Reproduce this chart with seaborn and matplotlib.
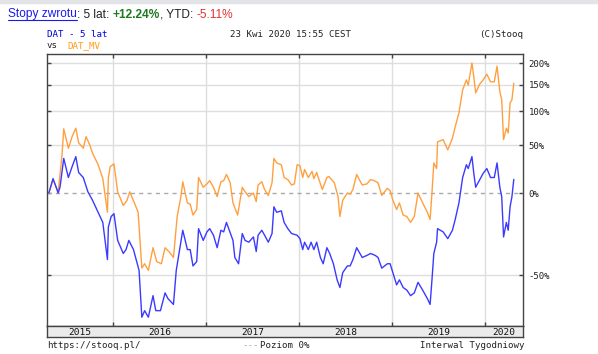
import numpy as np
import pandas as pd
import seaborn as sns
import matplotlib.pyplot as plt
from matplotlib.lines import Line2D
from matplotlib.patches import Rectangle
from matplotlib.ticker import FixedLocator, NullLocator, FixedFormatter

# DAT (blue) - cumulative return in %, x in fractional years
dat_t = [2015.31, 2015.355, 2015.41, 2015.43, 2015.47, 2015.52, 2015.56, 2015.60, 2015.63, 2015.68,
         2015.73, 2015.78, 2015.84, 2015.89, 2015.94, 2015.95, 2015.98, 2016.01, 2016.05, 2016.11,
         2016.14, 2016.17, 2016.22, 2016.28, 2016.31, 2016.34, 2016.38, 2016.43, 2016.46, 2016.51,
         2016.56, 2016.59, 2016.65, 2016.68, 2016.71, 2016.75, 2016.80, 2016.83, 2016.86, 2016.90,
         2016.92, 2016.97, 2017.01, 2017.04, 2017.08, 2017.12, 2017.16, 2017.19, 2017.22, 2017.25,
         2017.29, 2017.31, 2017.35, 2017.39, 2017.42, 2017.46, 2017.51, 2017.54, 2017.56, 2017.60,
         2017.63, 2017.67, 2017.71, 2017.73, 2017.76, 2017.81, 2017.84, 2017.88, 2017.92, 2017.98,
         2018.01, 2018.04, 2018.06, 2018.10, 2018.13, 2018.16, 2018.19, 2018.23, 2018.26, 2018.30,
         2018.33, 2018.37, 2018.41, 2018.44, 2018.47, 2018.52, 2018.55, 2018.58, 2018.62, 2018.68,
         2018.73, 2018.77, 2018.82, 2018.85, 2018.89, 2018.95, 2018.98, 2019.01, 2019.05, 2019.08,
         2019.12, 2019.16, 2019.20, 2019.24, 2019.28, 2019.33, 2019.38, 2019.41, 2019.43, 2019.45,
         2019.48, 2019.49, 2019.55, 2019.60, 2019.65, 2019.68, 2019.72, 2019.76, 2019.80, 2019.82,
         2019.86, 2019.88, 2019.90, 2019.95, 2019.98, 2020.02, 2020.06, 2020.10, 2020.13, 2020.16,
         2020.18, 2020.20, 2020.23, 2020.25, 2020.27, 2020.29, 2020.31]
dat_pct = [0, 13, 0, 5, 34, 14, 25, 36, 19, 14,
           1, -6, -15, -22, -43, -25, -18, -16, -33, -40,
           -38, -33, -38, -48, -65, -63, -65, -58, -63, -63,
           -57, -59, -61, -48, -40, -27, -38, -38, -46, -44,
           -26, -33, -28, -26, -30, -37, -27, -28, -22, -27,
           -33, -42, -45, -29, -33, -34, -31, -39, -30, -27,
           -30, -34, -29, -11, -15, -14, -22, -26, -29, -30,
           -32, -38, -34, -38, -34, -38, -34, -42, -45, -37,
           -40, -45, -52, -55, -49, -46, -46, -43, -37, -42,
           -41, -40, -41, -42, -47, -45, -45, -49, -54, -52,
           -55, -56, -58, -57, -53, -56, -59, -61, -52, -40,
           -34, -26, -28, -32, -27, -20, -8, 14, 27, 23,
           36, 18, 5, 13, 18, 23, 14, 14, 29, 5,
           -3, -31, -22, -27, -11, -3, 12.24]

# DAT_MV (orange)
mv_t = [2015.31, 2015.355, 2015.41, 2015.45, 2015.47, 2015.52, 2015.56, 2015.60, 2015.63, 2015.68,
        2015.71, 2015.75, 2015.78, 2015.84, 2015.89, 2015.94, 2015.95, 2015.97, 2016.01, 2016.05,
        2016.11, 2016.15, 2016.18, 2016.23, 2016.27, 2016.31, 2016.34, 2016.38, 2016.43, 2016.47,
        2016.52, 2016.56, 2016.60, 2016.65, 2016.69, 2016.73, 2016.75, 2016.80, 2016.83, 2016.86,
        2016.90, 2016.92, 2016.97, 2017.01, 2017.04, 2017.08, 2017.12, 2017.16, 2017.19, 2017.22,
        2017.26, 2017.29, 2017.34, 2017.39, 2017.42, 2017.46, 2017.51, 2017.54, 2017.56, 2017.60,
        2017.63, 2017.67, 2017.71, 2017.73, 2017.76, 2017.81, 2017.84, 2017.88, 2017.92, 2017.95,
        2017.98, 2018.01, 2018.04, 2018.06, 2018.10, 2018.14, 2018.16, 2018.19, 2018.25, 2018.30,
        2018.32, 2018.38, 2018.42, 2018.44, 2018.47, 2018.52, 2018.55, 2018.58, 2018.62, 2018.68,
        2018.73, 2018.77, 2018.81, 2018.85, 2018.89, 2018.95, 2018.98, 2019.01, 2019.05, 2019.08,
        2019.12, 2019.16, 2019.20, 2019.24, 2019.28, 2019.33, 2019.38, 2019.41, 2019.43, 2019.45,
        2019.48, 2019.49, 2019.55, 2019.60, 2019.65, 2019.68, 2019.72, 2019.76, 2019.80, 2019.82,
        2019.86, 2019.88, 2019.90, 2019.94, 2019.98, 2020.02, 2020.06, 2020.10, 2020.13, 2020.16,
        2020.18, 2020.20, 2020.23, 2020.25, 2020.27, 2020.29, 2020.31]
mv_pct = [0, 12, 1, 36, 72, 46, 61, 73, 53, 46,
          61, 50, 40, 27, 13, -15, 14, 25, 28, 1,
          -10, -6, 1, -8, -15, -47, -45, -48, -37, -44,
          -45, -37, -39, -42, -18, -3, 10, -8, -9, -17,
          -13, 14, 5, 8, 11, 5, -3, 10, 11, 17,
          9, -8, -17, 5, 1, -3, 0, -7, 7, 10,
          3, -2, 9, 34, 29, 27, 14, 12, 7, 8,
          27, 26, 14, 22, 14, 20, 13, 19, 3, 14,
          15, 9, -3, -18, -6, 0, -1, 3, 17, 7,
          8, 12, 11, 9, -2, 4, 2, -6, -13, -8,
          -17, -18, -22, -18, 0, -8, -15, -20, 0, 29,
          23, 54, 57, 44, 59, 75, 97, 139, 160, 149,
          200, 167, 133, 150, 160, 173, 156, 156, 192, 135,
          120, 57, 73, 66, 114, 120, 153]

year_starts = [2016, 2017, 2018, 2019, 2020]
year_labels = ["2015", "2016", "2017", "2018", "2019", "2020"]
year_label_pos = [2015.645, 2016.5, 2017.5, 2018.5, 2019.5, 2020.2]
level_pct = [-50, 0, 50, 100, 150, 200]
level_labels = ["-50%", "0%", "50%", "100%", "150%", "200%"]

W, H = 598, 354
def fx(px):
    return px / W
def fy(py):
    return 1 - py / H

sns.set_theme(style="white")
plt.rcParams["font.family"] = ["DejaVu Sans Mono"]

df = pd.concat([
    pd.DataFrame({"t": dat_t, "ratio": 1 + np.array(dat_pct) / 100.0, "name": "DAT"}),
    pd.DataFrame({"t": mv_t, "ratio": 1 + np.array(mv_pct) / 100.0, "name": "DAT_MV"}),
])

fig = plt.figure(figsize=(W / 100, H / 100), dpi=100)
fig.patches.append(Rectangle((0, fy(3)), 1, 3 / H, transform=fig.transFigure,
                             color="#e2e4e8", zorder=0))

ax = fig.add_axes([fx(47), fy(326), fx(523) - fx(47), fy(54) - fy(326)])
ax.set_yscale("log")

# grid
for x in year_starts:
    ax.axvline(x, color="#dedede", lw=1, zorder=0)
for p in level_pct:
    if p != 0:
        ax.axhline(1 + p / 100, color="#dedede", lw=1, zorder=0)
ax.axhline(1.0, color="#aaaaaa", lw=1, ls=(0, (3, 3)), zorder=1)

sns.lineplot(data=df, x="t", y="ratio", hue="name", hue_order=["DAT_MV", "DAT"],
             palette={"DAT": "#3a3aff", "DAT_MV": "#ffa040"}, estimator=None,
             sort=False, legend=False, lw=1.0, ax=ax)

ax.set_xlim(2015.29, 2020.409)
ax.set_ylim(0.325, 3.238)
ax.set_xlabel("")
ax.set_ylabel("")
ax.xaxis.set_major_locator(FixedLocator(year_starts))
ax.xaxis.set_minor_locator(NullLocator())
ax.yaxis.set_major_locator(FixedLocator([1 + p / 100 for p in level_pct]))
ax.yaxis.set_major_formatter(FixedFormatter(level_labels))
ax.yaxis.set_minor_locator(NullLocator())
ax.tick_params(axis="x", direction="in", length=3, width=1, color="#444444",
               top=True, bottom=True, labelbottom=False)
ax.tick_params(axis="y", direction="in", length=3, width=1, color="#444444",
               left=True, right=True, labelleft=False, labelright=True,
               labelsize=6.5, pad=4, labelcolor="#222222")
for s in ax.spines.values():
    s.set_color("#444444")
    s.set_linewidth(1.0)

# year band
band = fig.add_axes([fx(47), fy(337), fx(523) - fx(47), fy(326) - fy(337)])
band.set_facecolor("#ebebeb")
band.set_xlim(ax.get_xlim())
band.set_ylim(0, 1)
band.set_xticks([])
band.set_yticks([])
for s in band.spines.values():
    s.set_color("#444444")
    s.set_linewidth(1.0)
for pos, lab in zip(year_label_pos, year_labels):
    band.text(pos, 0.45, lab, ha="center", va="center", fontsize=6.8, color="#111111")

# header texts
fig.text(fx(47), fy(37), "DAT - 5 lat", fontsize=6.6, color="#0000dd", va="baseline")
fig.text(fx(47), fy(48), "vs", fontsize=6.6, color="#222222", va="baseline")
fig.text(fx(67), fy(48), "DAT_MV", fontsize=6.6, color="#ff9a1a", va="baseline")
fig.text(fx(290), fy(37), "23 Kwi 2020 15:55 CEST", fontsize=6.6, color="#222222",
         va="baseline", ha="center")
fig.text(fx(523), fy(37), "(C)Stooq", fontsize=6.6, color="#222222", va="baseline", ha="right")

# footer texts
fig.text(fx(47), fy(348), "https://stooq.pl/", fontsize=6.6, color="#222222", va="baseline")
fig.text(fx(242), fy(348), "---", fontsize=6.6, color="#aaaaaa", va="baseline")
fig.text(fx(260), fy(348), "Poziom 0%", fontsize=6.6, color="#222222", va="baseline")
fig.text(fx(524), fy(348), "Interwal Tygodniowy", fontsize=6.6, color="#222222",
         va="baseline", ha="right")

# title line
tfont = ["Liberation Sans", "DejaVu Sans"]
t1 = fig.text(fx(8), fy(17.5), "Stopy zwrotu", fontsize=8.6, color="#1a1aee",
              va="baseline", family=tfont)
pieces = [(": 5 lat: ", "#222222", "normal"), ("+12.24%", "#1e7a1e", "bold"),
          (", YTD: ", "#222222", "normal"), ("-5.11%", "#e23030", "normal")]
prev = t1
for txt, col, wt in pieces:
    prev = ax.annotate(txt, xy=(1, 0), xycoords=prev, va="bottom", ha="left",
                       fontsize=8.6, color=col, fontweight=wt, family=tfont,
                       annotation_clip=False)

fig.canvas.draw()
bb = t1.get_window_extent()
inv = fig.transFigure.inverted()
(x0, y0), (x1, _) = inv.transform([(bb.x0, bb.y0), (bb.x1, bb.y0)])
fig.add_artist(Line2D([x0, x1], [fy(19.5), fy(19.5)], transform=fig.transFigure,
                      color="#1a1aee", lw=0.8))

fig.savefig("out.png", dpi=100)
